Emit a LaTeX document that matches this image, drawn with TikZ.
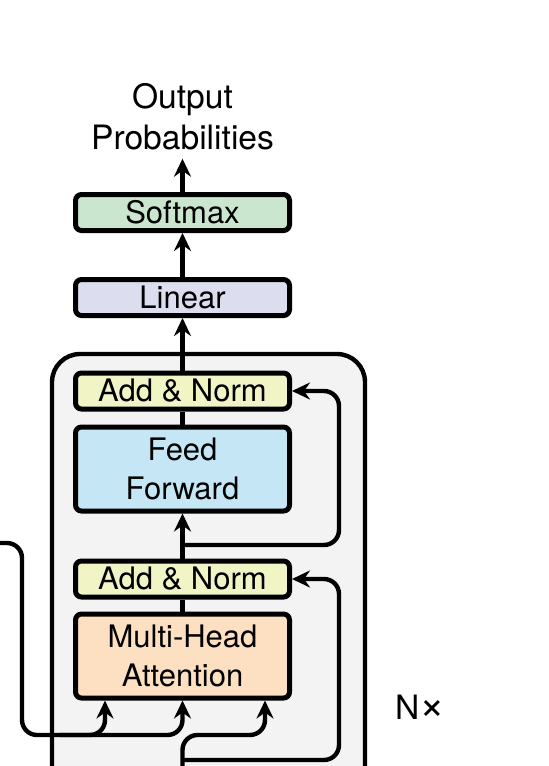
\documentclass[tikz,border=0pt]{standalone}
\usepackage{fontspec}
\setmainfont{TeX Gyre Heros}
\usetikzlibrary{positioning,arrows.meta}

\definecolor{softmaxgreen}{RGB}{203,230,207}
\definecolor{linearblue}{RGB}{220,222,240}
\definecolor{normyellow}{RGB}{241,244,197}
\definecolor{ffblue}{RGB}{197,230,245}
\definecolor{mhaorange}{RGB}{252,224,193}
\definecolor{layergrey}{RGB}{243,243,243}

\begin{document}
\begin{tikzpicture}[x=0.5pt, y=-0.5pt,
    >={Stealth[length=9pt, width=8.5pt, inset=3pt]},
    every node/.style={font=\fontsize{15.5}{19.5}\selectfont},
    block/.style={rectangle, rounded corners=3pt, draw=black, line width=2.5pt, minimum width=107pt, minimum height=18pt, inner sep=0pt, align=center},
    tallblock/.style={block, minimum height=42pt},
    conn/.style={line width=2.2pt, ->},
    bare/.style={line width=2.2pt},
    resid/.style={conn, rounded corners=7.5pt}]
    \useasboundingbox (0,0) rectangle (549,766);

    % Decoder layer
    \draw[fill=layergrey, line width=2.2pt, rounded corners=14pt] (52,354) rectangle (365,830);

    % Blocks
    \node[block, fill=softmaxgreen] (softmax) at (182.5,212.5) {Softmax};
    \node[block, fill=linearblue] (linear) at (182.5,297.5) {Linear};
    \node[block, fill=normyellow] (addnorm2) at (182.5,391) {Add \& Norm};
    \node[tallblock, fill=ffblue] (ff) at (182.5,469) {Feed\\Forward};
    \node[block, fill=normyellow] (addnorm1) at (182.5,579) {Add \& Norm};
    \node[tallblock, fill=mhaorange] (mha) at (182.5,656) {Multi-Head\\Attention};

    % Labels
    \node[align=center, inner sep=4pt, font=\fontsize{16.8}{20.5}\selectfont] (output) at (182.5,117) {Output\\Probabilities};
    \node[inner sep=0pt, font=\fontsize{16.8}{20}\selectfont] (nx) at (420,707.5) {N{\fontsize{22}{22}\selectfont ×}};

    % Free ends and turning points
    \coordinate (encout) at (-10,543);
    \coordinate (decin) at (182.5,830);
    \coordinate (inrow) at (0,735);
    \coordinate (leftx) at (22,0);
    \coordinate (vx) at (105,0);
    \coordinate (qx) at (265,0);
    \coordinate (rx) at (339,0);
    \coordinate (vk) at (60,735);
    \coordinate (br2) at (182.5,545);
    \coordinate (br1) at (182.5,760);

    % Main flow
    \draw[conn] (softmax) -- (output);
    \draw[conn] (linear) -- (softmax);
    \draw[conn] (addnorm2) -- (linear);
    \draw[bare] (ff) -- (addnorm2);
    \draw[conn] (addnorm1) -- (ff);
    \draw[bare] (mha) -- (addnorm1);

    % Residual connections
    \draw[resid] (br2) -| (rx |- addnorm2.east) -- (addnorm2.east);
    \draw[resid] (br1) -| (rx |- addnorm1.east) -- (addnorm1.east);

    % Attention inputs
    \draw[resid] (encout) -| (leftx |- inrow) -| (vx |- mha.south);
    \draw[resid] (vk) -| (mha.south);
    \draw[resid] (decin) -- (decin |- inrow) -| (qx |- mha.south);
\end{tikzpicture}
\end{document}
